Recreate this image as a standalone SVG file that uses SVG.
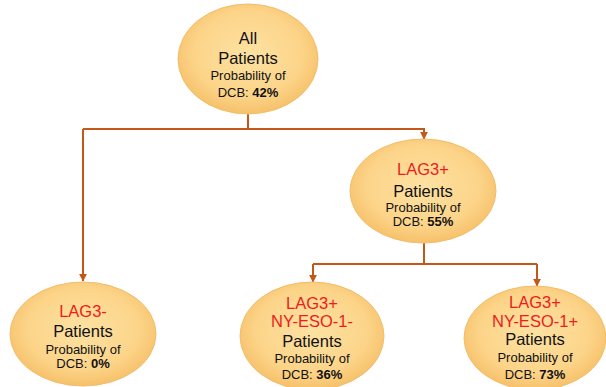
<svg xmlns="http://www.w3.org/2000/svg" width="606" height="387" viewBox="0 0 606 387">
<defs>
<radialGradient id="g" cx="50%" cy="45%" r="55%">
<stop offset="0" stop-color="#fde2a2"/>
<stop offset="0.7" stop-color="#fcd489"/>
<stop offset="1" stop-color="#f6c16a"/>
</radialGradient>
<marker id="ah" viewBox="0 0 10 10" refX="9" refY="5" markerWidth="4" markerHeight="4" orient="auto" markerUnits="strokeWidth">
<path d="M0,0 L10,5 L0,10 Z" fill="#c4581a"/>
</marker>
<style>
.n{fill:url(#g);stroke:#f3bd6a;stroke-width:1}
.c{fill:none;stroke:#c4581a;stroke-width:2}
text{font-family:"Liberation Sans",Arial,sans-serif;text-anchor:middle;fill:#111}
.b{font-size:16.5px}
.s{font-size:13px}
.r{fill:#ee1c1c}
.k{font-weight:bold}
</style>
</defs>
<rect width="606" height="387" fill="#fff"/>
<g id="connectors">
<path class="c" d="M248,114 V129"/>
<path class="c" d="M83,129 H424 V139" marker-end="url(#ah)"/>
<path class="c" d="M83,129 V281" marker-end="url(#ah)"/>
<path class="c" d="M424,242 V264"/>
<path class="c" d="M313,264 H537"/>
<path class="c" d="M313,264 V282" marker-end="url(#ah)"/>
<path class="c" d="M537,264 V286" marker-end="url(#ah)"/>
</g>
<g id="all">
<ellipse class="n" cx="248" cy="59" rx="70" ry="55"/>
<text class="b" x="248" y="44">All</text>
<text class="b" x="248" y="64">Patients</text>
<text class="s" x="248" y="80">Probability of</text>
<text class="s" x="248" y="97">DCB: <tspan class="k">42%</tspan></text>
</g>
<g id="lag3pos">
<ellipse class="n" cx="423" cy="191" rx="73" ry="52"/>
<text class="b r" x="423" y="175">LAG3+</text>
<text class="b" x="423" y="197">Patients</text>
<text class="s" x="423" y="212">Probability of</text>
<text class="s" x="423" y="226">DCB: <tspan class="k">55%</tspan></text>
</g>
<g id="lag3neg">
<ellipse class="n" cx="83" cy="334" rx="73" ry="52"/>
<text class="b r" x="83" y="317">LAG3-</text>
<text class="b" x="83" y="337">Patients</text>
<text class="s" x="83" y="354">Probability of</text>
<text class="s" x="83" y="368">DCB: <tspan class="k">0%</tspan></text>
</g>
<g id="nyesoneg">
<ellipse class="n" cx="312" cy="336" rx="72" ry="54"/>
<text class="b r" x="312" y="309">LAG3+</text>
<text class="b r" x="312" y="327">NY-ESO-1-</text>
<text class="b" x="312" y="347">Patients</text>
<text class="s" x="312" y="363">Probability of</text>
<text class="s" x="312" y="379">DCB: <tspan class="k">36%</tspan></text>
</g>
<g id="nyesopos">
<ellipse class="n" cx="535" cy="338" rx="71" ry="52"/>
<text class="b r" x="535" y="308">LAG3+</text>
<text class="b r" x="535" y="327">NY-ESO-1+</text>
<text class="b" x="535" y="345">Patients</text>
<text class="s" x="535" y="362">Probability of</text>
<text class="s" x="535" y="379">DCB: <tspan class="k">73%</tspan></text>
</g>
</svg>
